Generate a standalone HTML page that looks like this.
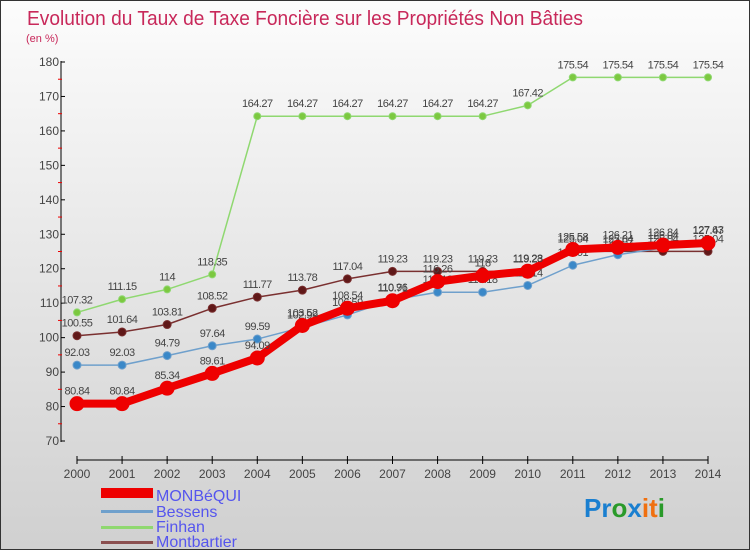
<!DOCTYPE html>
<html><head><meta charset="utf-8"><style>
body{margin:0;}
#wrap{width:750px;height:550px;position:relative;background:linear-gradient(#fcfcfc,#d0d0d0);box-sizing:border-box;border:1px solid #333;font-family:"Liberation Sans",sans-serif;overflow:hidden;}
</style></head><body>
<div id="wrap">
<svg id="svg" width="750" height="550" style="position:absolute;left:0;top:0">
<text x="26" y="24" font-size="20" fill="#c8285a" textLength="556" lengthAdjust="spacingAndGlyphs">Evolution du Taux de Taxe Foncière sur les Propriétés Non Bâties</text>
<text x="25" y="41" font-size="11" fill="#c8285a">(en %)</text>
<g id="axes"></g><g id="series"></g>
<g>
<rect x="100" y="487" width="52" height="10" fill="#e00"/>
<text x="155" y="500" font-size="16" fill="#5555ee">MONBéQUI</text>
<rect x="100" y="509" width="52" height="3" fill="#6fa0cc"/>
<text x="155" y="516" font-size="16" fill="#5555ee">Bessens</text>
<rect x="100" y="525" width="52" height="3" fill="#8fd870"/>
<text x="155" y="531" font-size="16" fill="#5555ee">Finhan</text>
<rect x="100" y="540" width="52" height="3" fill="#8a4f4f"/>
<text x="155" y="546" font-size="16" fill="#5555ee">Montbartier</text>
</g>
<text x="583" y="516" font-size="26" font-weight="bold"><tspan fill="#1a7fd0">Pr</tspan><tspan fill="#2a9a2a">o</tspan><tspan fill="#1a7fd0">x</tspan><tspan fill="#f07010">it</tspan><tspan fill="#2a9a2a">i</tspan></text>
</svg></div>
<script>
const years=["2000","2001","2002","2003","2004","2005","2006","2007","2008","2009","2010","2011","2012","2013","2014"];
const yTicks=[70,80,90,100,110,120,130,140,150,160,170,180];
const monbequi=[80.84,80.84,85.34,89.61,94.09,103.52,108.54,110.71,116.26,118,119.28,125.58,126.21,126.84,127.47];
const bessens=[92.03,92.03,94.79,97.64,99.59,102.99,106.59,110.96,113.18,113.18,115.14,121.01,124.07,126.04,127.63];
const finhan=[107.32,111.15,114,118.35,164.27,164.27,164.27,164.27,164.27,164.27,167.42,175.54,175.54,175.54,175.54];
const montbartier=[100.55,101.64,103.81,108.52,111.77,113.78,117.04,119.23,119.23,119.23,119.23,125.04,125.04,125.04,125.04];
const NS="http://www.w3.org/2000/svg";
const X=i=>76+i*(707-76)/14, Y=v=>440-(v-70)*(379/110);
function mk(t,a,p){const e=document.createElementNS(NS,t);for(const k in a)e.setAttribute(k,a[k]);p.appendChild(e);return e;}
const ax=document.getElementById('axes'), sg=document.getElementById('series');
let l=mk('line',{x1:60,y1:60,x2:60,y2:441,stroke:'#000'},ax);
l=mk('line',{x1:76,y1:459,x2:707,y2:459,stroke:'#000'},ax);
yTicks.forEach(v=>{mk('line',{x1:60,y1:Y(v),x2:64,y2:Y(v),stroke:'#000'},ax);
 if(v<180)mk('line',{x1:57,y1:Y(v+5),x2:61,y2:Y(v+5),stroke:'#e00'},ax);
 const t=mk('text',{x:58,y:Y(v)+4,'font-size':12,fill:'#444','text-anchor':'end'},ax);t.textContent=v;
 });
years.forEach((y,i)=>{mk('line',{x1:X(i),y1:455,x2:X(i),y2:463,stroke:'#000'},ax);
 const t=mk('text',{x:X(i),y:477,'font-size':12,fill:'#444','text-anchor':'middle'},ax);t.textContent=y;
 });
function draw(d,name,lc,pc,w,r){
 const g=mk('g',{},sg);
 mk('polyline',{points:d.map((v,i)=>X(i)+','+Y(v)).join(' '),fill:'none',stroke:lc,'stroke-width':w,'stroke-linejoin':'round'},g);
 d.forEach((v,i)=>{const c=mk('circle',{cx:X(i),cy:Y(v),r:r,fill:pc,stroke:lc,'stroke-width':1},g);
  
  const t=mk('text',{x:X(i),y:Y(v)-9,'font-size':11,fill:'#444','text-anchor':'middle','letter-spacing':'-0.5'},g);t.textContent=v;
  });
}
draw(finhan,'finhan','#8fd870','#7cc840',1.5,3.5);
draw(montbartier,'montbartier','#7a3030','#601818',1.5,4);
draw(bessens,'bessens','#6fa0cc','#3a88c8',1.5,4);
draw(monbequi,'monbequi','#ee0000','#ee0000',8,7);
</script></body></html>
